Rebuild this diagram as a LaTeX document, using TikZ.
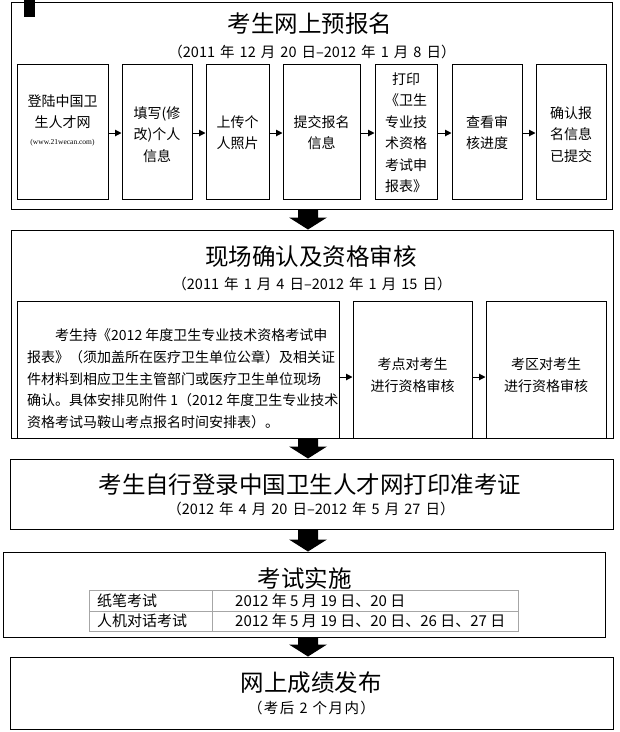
\documentclass[tikz,border=0pt]{standalone}
\usepackage{fontspec}
\setmainfont{Noto Sans CJK SC}
\newfontfamily\latinserif{Liberation Serif}
\newcommand\myWideSpace{\spaceskip 0.35em\relax}
\newcommand\myLetterSp{\addfontfeature{LetterSpace=10}}
\usetikzlibrary{arrows.meta,calc}
\begin{document}
\begin{tikzpicture}[x=1pt,y=-1pt,
  box/.style={draw, line width=1pt, inner sep=0pt, rectangle},
  lbl/.style={inner sep=0pt, font=\fontsize{14pt}{21.5pt}\selectfont, align=center},
  para/.style={inner sep=0pt, anchor=west, font=\fontsize{14pt}{21.5pt}\selectfont},
  ttl/.style={inner sep=0pt, font=\fontsize{23.5pt}{28pt}\selectfont},
  datetxt/.style={inner sep=0pt, font=\fontsize{14.5pt}{18pt}\selectfont\myWideSpace},
  celltxt/.style={inner sep=0pt, anchor=west, font=\fontsize{15pt}{18pt}\selectfont},
  smallarrow/.style={line width=1pt, -{Triangle[length=6.5pt,width=6.5pt]}},
  bigarrow/.style={to path={let \p1=(\tikztostart), \p2=(\tikztotarget) in
     (\x1-10pt,\y1) -- (\x1+10pt,\y1) -- (\x1+10pt,\y2+12pt) -- (\x1+19pt,\y2+12pt)
     -- (\x2,\y2) -- (\x1-19pt,\y2+12pt) -- (\x1-10pt,\y2+12pt) -- cycle}},
  cell/.style={draw=black!35, line width=0.9pt, inner sep=0pt, rectangle},
]
\useasboundingbox (0,0) rectangle (620,732);
\fill[white] (0,0) rectangle (620,732);

% ---------- Section 1 ----------
\node[box, minimum width=601pt, minimum height=207pt] (s1) at (311.5,105.5) {};
\fill (24,0) rectangle (35,17);
\node[ttl] (t1) at (310,24) {考生网上预报名};
\node[datetxt] (d1) at (312,52) {（2011 年 12 月 20 日–2012 年 1 月 8 日）};

\node[box, minimum width=91pt, minimum height=135pt] (b1) at (62.5,131.5) {};
\node[box, minimum width=70pt, minimum height=135pt] (b2) at (157,131.5) {};
\node[box, minimum width=63pt, minimum height=135pt] (b3) at (237.5,131.5) {};
\node[box, minimum width=77pt, minimum height=135pt] (b4) at (321.5,131.5) {};
\node[box, minimum width=62pt, minimum height=135pt] (b5) at (406,131.5) {};
\node[box, minimum width=70pt, minimum height=135pt] (b6) at (487,131.5) {};
\node[box, minimum width=70pt, minimum height=135pt] (b7) at (571,131.5) {};

\node[lbl] (b1t) at (62.5,111.5) {登陆中国卫\\生人才网};
\node[inner sep=0pt, font=\latinserif\fontsize{7.5pt}{8pt}\selectfont] (b1u) at (62.5,143) {(www.21wecan.com)};
\node[lbl] (b2t) at (157,134.5) {填写(修\\改)个人\\信息};
\node[lbl] (b3t) at (237.5,132.5) {上传个\\人照片};
\node[lbl] (b4t) at (321.5,132.5) {提交报名\\信息};
\node[lbl] (b5t) at (406,132.5) {打印\\《卫生\\专业技\\术资格\\考试申\\报表》};
\node[lbl] (b6t) at (487,132.5) {查看审\\核进度};
\node[lbl] (b7t) at (571,134.5) {确认报\\名信息\\已提交};

\foreach \a/\b in {b1/b2,b2/b3,b3/b4,b4/b5,b5/b6,b6/b7}
  \draw[smallarrow] ([yshift=-1.5pt]\a.east) -- ([yshift=-1.5pt]\b.west);

% ---------- Section 2 ----------
\node[box, minimum width=602pt, minimum height=208pt] (s2) at (312,334) {};
\node[ttl] (t2) at (311,257) {现场确认及资格审核};
\node[datetxt] (d2) at (312,284) {（2011 年 1 月 4 日–2012 年 1 月 15 日）};

\node[box, minimum width=322pt, minimum height=137pt] (A) at (178,369.5) {};
\node[box, minimum width=119pt, minimum height=137pt] (B) at (412.5,369.5) {};
\node[box, minimum width=120pt, minimum height=137pt] (C) at (546,369.5) {};

\node[para] (p1) at (55,335) {考生持《2012 年度卫生专业技术资格考试申};
\node[para] (p2) at (27,357) {报表》（须加盖所在医疗卫生单位公章）及相关证};
\node[para] (p3) at (27,379) {件材料到相应卫生主管部门或医疗卫生单位现场};
\node[para] (p4) at (27,400) {确认。具体安排见附件 1（2012 年度卫生专业技术};
\node[para] (p5) at (27,422) {资格考试马鞍山考点报名时间安排表）。};

\node[lbl] (Bt) at (412.5,375) {考点对考生\\进行资格审核};
\node[lbl] (Ct) at (546,375) {考区对考生\\进行资格审核};

\draw[smallarrow] ([yshift=-7.5pt]A.east) -- ([yshift=-7.5pt]B.west);
\draw[smallarrow] ([yshift=-7.5pt]B.east) -- ([yshift=-7.5pt]C.west);

% ---------- Section 3 ----------
\node[box, minimum width=603pt, minimum height=70pt] (s3) at (311.5,494) {};
\node[ttl] (t3) at (310,485) {考生自行登录中国卫生人才网打印准考证};
\node[datetxt] (d3) at (311,509) {（2012 年 4 月 20 日–2012 年 5 月 27 日）};

% ---------- Section 4 ----------
\node[box, minimum width=602pt, minimum height=85pt] (s4) at (304,594.5) {};
\node[ttl] (t4) at (304.5,578) {考试实施};
\node[cell, minimum width=123pt, minimum height=21pt] (c11) at (150.5,600.5) {};
\node[cell, minimum width=306pt, minimum height=21pt] (c12) at (365,600.5) {};
\node[cell, minimum width=123pt, minimum height=20pt] (c21) at (150.5,621) {};
\node[cell, minimum width=306pt, minimum height=20pt] (c22) at (365,621) {};
\node[celltxt] (c11t) at (97,600.5) {纸笔考试};
\node[celltxt] (c12t) at (235,600.5) {2012 年 5 月 19 日、20 日};
\node[celltxt] (c21t) at (97,621) {人机对话考试};
\node[celltxt] (c22t) at (235,621) {2012 年 5 月 19 日、20 日、26 日、27 日};

% ---------- Section 5 ----------
\node[box, minimum width=603pt, minimum height=72pt] (s5) at (311.5,693) {};
\node[ttl] (t5) at (311,683) {网上成绩发布};
\node[inner sep=0pt, font=\fontsize{14.5pt}{18pt}\selectfont\myLetterSp\myWideSpace] (d5) at (311.5,708) {（考后 2 个月内）};

% ---------- Block arrows ----------
\coordinate (ax) at (308,0);
\fill (s1.south -| ax) to[bigarrow] (s2.north -| ax);
\fill (s2.south -| ax) to[bigarrow] (s3.north -| ax);
\fill (s3.south -| ax) to[bigarrow] (s4.north -| ax);
\fill (s4.south -| ax) to[bigarrow] (s5.north -| ax);
\end{tikzpicture}
\end{document}
